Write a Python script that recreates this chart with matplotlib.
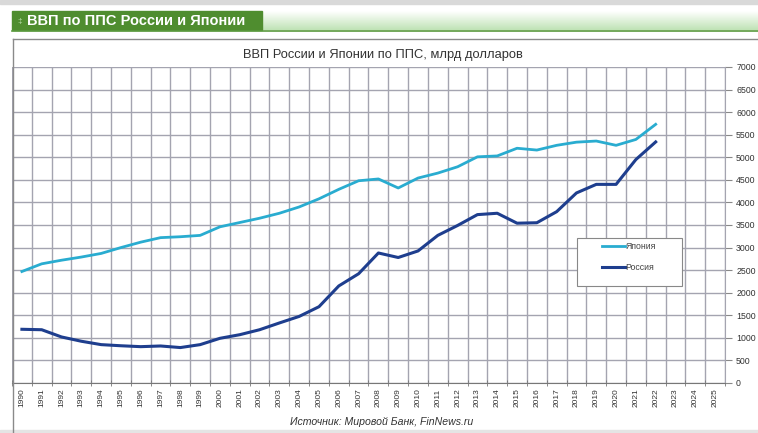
import numpy as np
import matplotlib.pyplot as plt
from matplotlib.patches import Rectangle
from matplotlib.lines import Line2D

# data (billion $, PPP)
years = list(range(1990, 2026))
japan = [2470, 2640, 2720, 2790, 2870, 3000, 3120, 3220, 3240, 3270,
         3460, 3555, 3650, 3760, 3900, 4080, 4290, 4480, 4520, 4320,
         4540, 4650, 4790, 5010, 5030, 5200, 5160, 5265, 5335, 5360,
         5265, 5395, 5730]
russia = [1190, 1180, 1020, 925, 850, 825, 805, 820, 785, 850,
          990, 1070, 1180, 1330, 1475, 1690, 2150, 2420, 2880, 2780,
          2925, 3270, 3490, 3730, 3760, 3540, 3550, 3795, 4210, 4400,
          4400, 4950, 5340]
yticks = list(range(0, 7001, 500))

W, H = 758, 433
fig = plt.figure(figsize=(W / 100, H / 100), dpi=100)
plt.rcParams['font.family'] = ['Liberation Sans', 'DejaVu Sans']

def px(x0, y0, x1, y1):
    # pixel box (top-down) -> figure fraction rect
    return [x0 / W, 1 - y1 / H, (x1 - x0) / W, (y1 - y0) / H]

# header strip
fig.patches.append(Rectangle((0, 1 - 4 / H), 1, 4 / H, transform=fig.transFigure,
                             color='#d9d9d9', zorder=0))
fig.patches.append(Rectangle((0, 0), 1, 3 / H, transform=fig.transFigure,
                             color='#e4e4e4', zorder=0))
gax = fig.add_axes(px(262, 11, W, 30))
grad = np.linspace(0, 1, 50).reshape(-1, 1)
gax.imshow(grad, aspect='auto', cmap=plt.matplotlib.colors.LinearSegmentedColormap.from_list(
    'g', ['#ffffff', '#bfe3b5']), extent=[0, 1, 0, 1], origin='upper')
gax.axis('off')
fig.patches.append(Rectangle((12 / W, 1 - 30 / H), 250 / W, 19 / H, transform=fig.transFigure,
                             color='#4f8d2f', zorder=1))
fig.lines.append(Line2D([12 / W, 1], [1 - 30.5 / H] * 2, transform=fig.transFigure,
                        color='#5b9a3e', lw=1.2))
fig.text(17 / W, 1 - 21 / H, '‡', color='#b9dca9', fontsize=6, va='center')
fig.text(27 / W, 1 - 21 / H, 'ВВП по ППС России и Японии', color='white',
         fontsize=10.5, fontweight='bold', va='center')

# chart frame
fig.lines.append(Line2D([13 / W, 1], [1 - 39 / H] * 2, transform=fig.transFigure,
                        color='#8a8a8a', lw=1))
fig.lines.append(Line2D([13 / W, 13 / W], [0, 1 - 39 / H], transform=fig.transFigure,
                        color='#8a8a8a', lw=1))

fig.text(383 / W, 1 - 55 / H, 'ВВП России и Японии по ППС, млрд долларов',
         ha='center', va='center', fontsize=9.3, color='#333333')
fig.text(382 / W, 1 - 422 / H, 'Источник: Мировой Банк, FinNews.ru',
         ha='center', va='center', fontsize=7.6, style='italic', color='#333333')

ax = fig.add_axes(px(12, 67, 725, 383))
x = np.arange(len(years))
ax.plot(x[:len(japan)], japan, color='#29acd0', lw=2, label='Япония')
ax.plot(x[:len(russia)], russia, color='#1e3e8e', lw=2.2, label='Россия')

ax.set_xlim(-0.5, len(years) - 0.5)
ax.set_ylim(0, 7000)
ax.set_xticks(x)
ax.set_xticklabels([str(y) for y in years], rotation=90, fontsize=6, color='#333333')
ax.set_xticks(np.arange(-0.5, len(years)), minor=True)
ax.tick_params(axis='x', which='major', length=0, pad=4)
ax.tick_params(axis='x', which='minor', length=4, direction='inout', color='#777777')
ax.yaxis.tick_right()
ax.set_yticks(yticks)
ax.set_yticklabels([str(v) for v in yticks], fontsize=6.3, color='#333333', ha='left')
ax.tick_params(axis='y', length=5, color='#888888', pad=3)
ax.grid(True, which='minor', axis='x', color='#a4a4b0', lw=1)
ax.grid(True, which='major', axis='y', color='#a4a4b0', lw=1)
ax.set_axisbelow(True)
for s in ['top', 'left']:
    ax.spines[s].set_visible(False)
ax.spines['right'].set_color('#a4a4b0')
ax.spines['bottom'].set_color('#777777')

# legend box drawn separately (wider than the default padding allows)
box = Rectangle((577 / W, 1 - 286 / H), 105 / W, 48 / H, transform=fig.transFigure,
                facecolor='white', edgecolor='#888888', lw=0.8, zorder=4, clip_on=False)
ax.add_patch(box)
leg = ax.legend(loc='center', bbox_to_anchor=((629 - 12) / 713, (383 - 257) / 316), fontsize=6.3,
                frameon=False, handlelength=2.6, labelspacing=1.3,
                borderpad=0.2, handletextpad=0.1)
leg.set_zorder(5)
for t in leg.get_texts():
    t.set_color('#444444')

fig.savefig('out.png', dpi=100)
